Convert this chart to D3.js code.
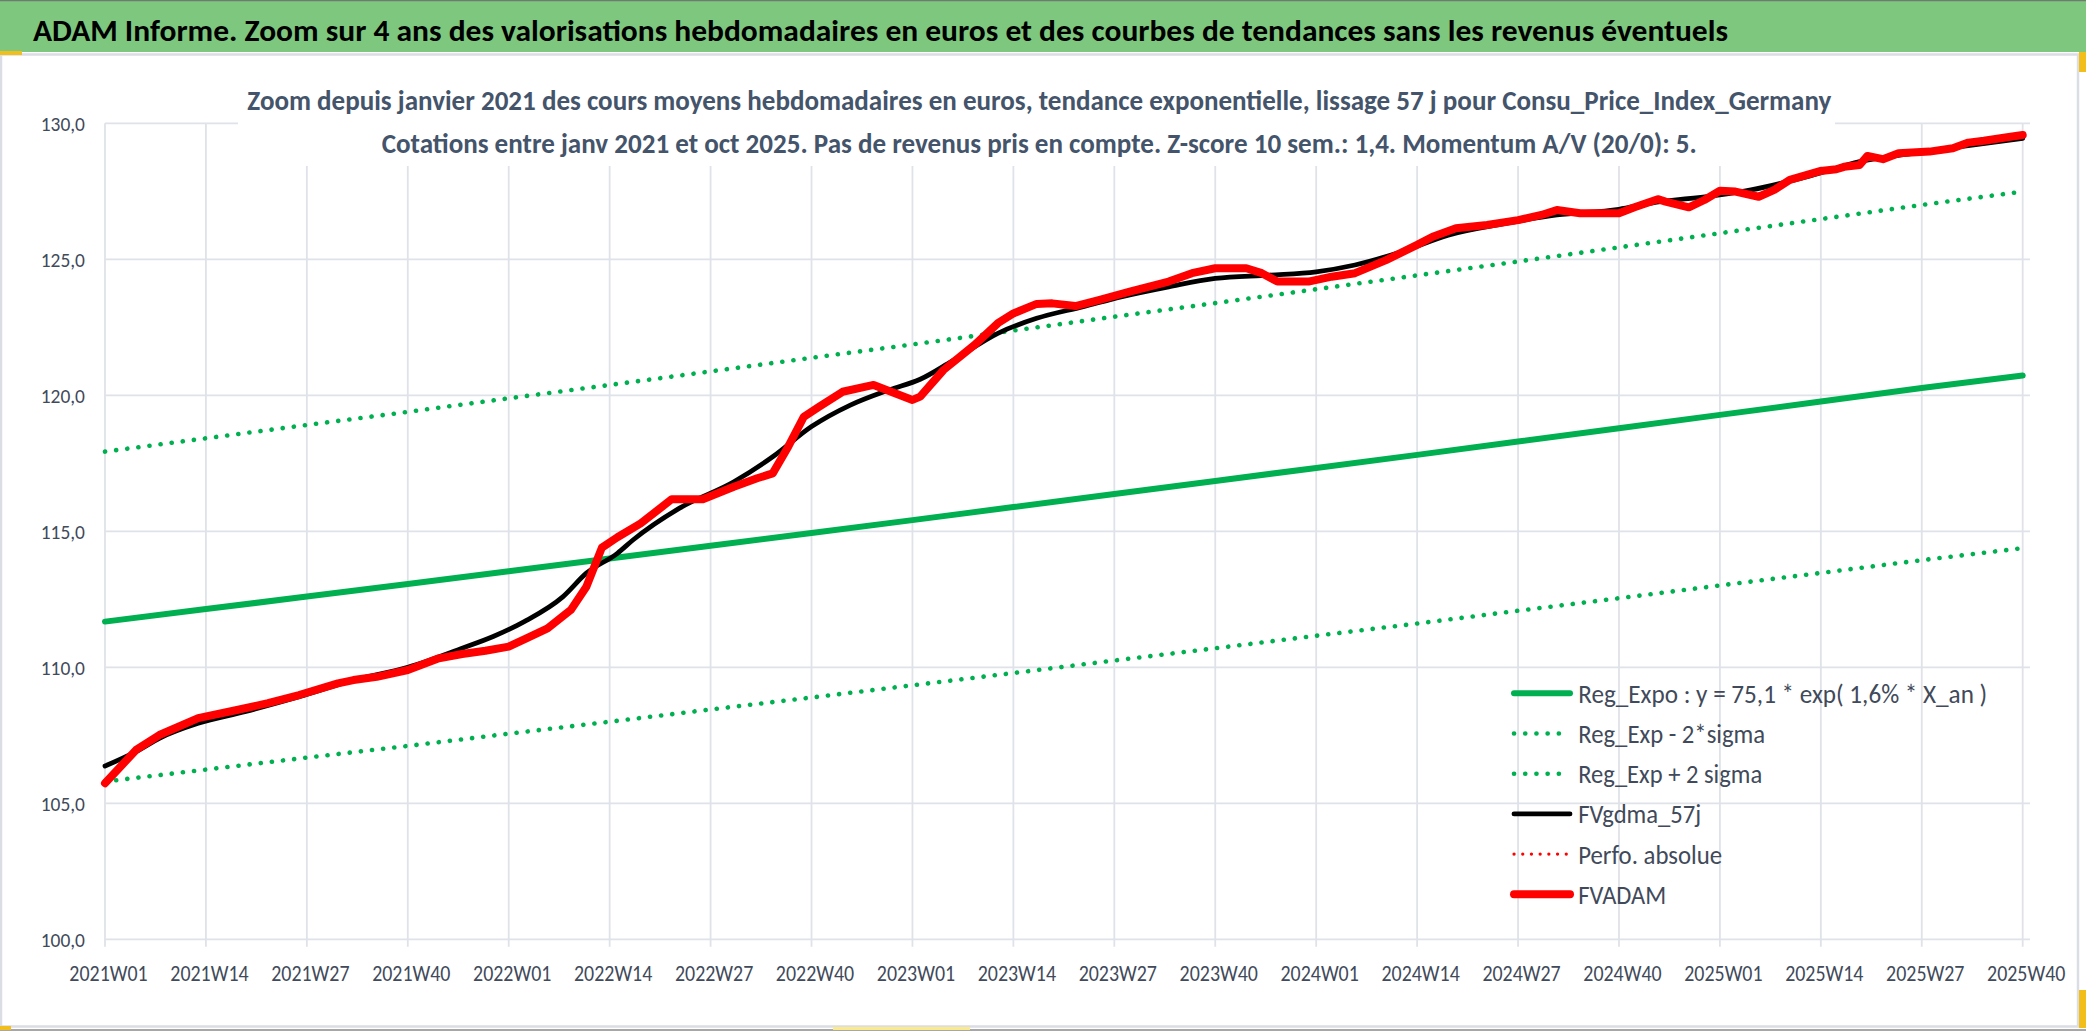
<!DOCTYPE html>
<html><head><meta charset="utf-8">
<script src="https://cdn.jsdelivr.net/npm/d3@7/dist/d3.min.js"></script>
<style>html,body{margin:0;padding:0;background:#fff;overflow:hidden}</style>
</head><body>
<svg id="c" width="2086" height="1031"></svg>
<script>
// ---------------- DATA ----------------
const titleText = "ADAM Informe. Zoom sur 4 ans des valorisations hebdomadaires en euros et des courbes de tendances sans les revenus éventuels";
const subtitle1 = "Zoom depuis janvier 2021 des cours moyens hebdomadaires en euros, tendance exponentielle, lissage 57 j pour Consu_Price_Index_Germany";
const subtitle2 = "Cotations entre janv 2021 et oct 2025. Pas de revenus pris en compte. Z-score 10 sem.: 1,4. Momentum A/V (20/0): 5.";

const xTickLabels = ["2021W01","2021W14","2021W27","2021W40","2022W01","2022W14","2022W27","2022W40",
  "2023W01","2023W14","2023W27","2023W40","2024W01","2024W14","2024W27","2024W40",
  "2025W01","2025W14","2025W27","2025W40"];
const yTicks = [100,105,110,115,120,125,130];

// Trend lines read at each labelled week
const regExpo  = [111.68,112.14,112.60,113.06,113.53,114.00,114.47,114.94,115.41,115.89,
                  116.37,116.85,117.33,117.81,118.30,118.79,119.28,119.77,120.27,120.73];
const regMinus = [105.80,106.24,106.68,107.11,107.56,108.00,108.45,108.89,109.34,109.79,
                  110.25,110.70,111.16,111.61,112.08,112.54,113.01,113.47,113.94,114.38];
const regPlus  = [117.93,118.42,118.91,119.39,119.89,120.38,120.88,121.38,121.87,122.38,
                  122.89,123.39,123.90,124.41,124.92,125.44,125.96,126.48,127.00,127.49];

// FVgdma_57j : week offset since 2021W01, value
const fvgdmaWeek  = [0,4,7,12,18,25,32,39,46,50,54,59,62,66,68,74,81,86,91,96,101,105,109,115,120,126,131,137,143,150,156,161,167,173,180,187,195,199,207,212,220,226,233,239,247];
const fvgdmaValue = [106.37,106.90,107.39,107.94,108.37,108.92,109.53,110.00,110.70,111.13,111.68,112.60,113.46,114.19,114.68,115.85,116.82,117.74,118.85,119.64,120.20,120.59,121.24,122.28,122.83,123.26,123.63,123.99,124.30,124.42,124.54,124.79,125.28,125.89,126.30,126.63,126.84,127.06,127.33,127.55,128.10,128.59,128.90,129.14,129.45];

// FVADAM : week offset since 2021W01, value
const fvadamWeek  = [0,4,7,12,17,21,25,30,32,35,39,43,46,49,52,54,57,60,62,64,66,69,73,77,81,84,86,88,90,92,95,99,104,105,108,112,115,117,120,122,125,128,132,137,140,143,147,149,151,155,158,161,165,169,171,174,178,182,185,187,190,195,197,200,201,204,206,208,210,213,215,217,221,223,224,226,227,229,231,235,238,240,242,245,247];
const fvadamValue = [105.74,106.96,107.51,108.13,108.43,108.68,108.98,109.41,109.53,109.65,109.90,110.33,110.49,110.61,110.76,111.03,111.43,112.11,112.96,114.40,114.78,115.29,116.18,116.18,116.64,116.95,117.13,118.11,119.21,119.58,120.13,120.38,119.83,119.95,120.93,121.85,122.65,123.01,123.36,123.38,123.28,123.50,123.81,124.18,124.49,124.67,124.67,124.49,124.18,124.18,124.36,124.49,124.97,125.53,125.83,126.14,126.26,126.44,126.63,126.81,126.69,126.69,126.91,127.21,127.12,126.91,127.18,127.52,127.49,127.30,127.55,127.92,128.25,128.31,128.40,128.47,128.80,128.68,128.90,128.96,129.08,129.29,129.36,129.49,129.57];

const legendLabels = ["Reg_Expo : y = 75,1 * exp( 1,6% *  X_an )","Reg_Exp - 2*sigma","Reg_Exp + 2 sigma","FVgdma_57j","Perfo. absolue","FVADAM"];

// ---------------- CHART ----------------
const FONT = "Carlito, Calibri, Lato, 'Open Sans', sans-serif";
const svg = d3.select("#c");
const weekIndex = lbl => (+lbl.slice(0,4) - 2021) * 52 + (+lbl.slice(5) - 1);

const x = d3.scaleLinear().domain([0, weekIndex("2025W40")]).range([105, 2022.7]);
const y = d3.scaleLinear().domain([100, 130]).range([939.3, 123.3]);
const plotRight = 2030;

function fitWidth(sel, w) {
  sel.attr("textLength", w).attr("lengthAdjust", "spacingAndGlyphs");
}

// background & frame
svg.append("rect").attr("x",0).attr("y",0).attr("width",2086).attr("height",1031).attr("fill","#fff");
svg.append("rect").attr("x",0).attr("y",0).attr("width",2086).attr("height",52).attr("fill","#7DC87E");
svg.append("line").attr("x1",0).attr("x2",2086).attr("y1",0.5).attr("y2",0.5).attr("stroke","#6f7a70").attr("stroke-width",1.5);
svg.append("rect").attr("x",1).attr("y",54.5).attr("width",2077).attr("height",972).attr("fill","#fff")
  .attr("stroke","#DADDE3").attr("stroke-width",2.5);
svg.append("line").attr("x1",0).attr("x2",2086).attr("y1",1030).attr("y2",1030).attr("stroke","#8a8a8a").attr("stroke-width",1.5);
// selection handles
svg.append("rect").attr("x",0).attr("y",51).attr("width",22).attr("height",4).attr("fill","#F2BE1A");
svg.append("rect").attr("x",0).attr("y",1026).attr("width",11).attr("height",4).attr("fill","#F2BE1A");
svg.append("rect").attr("x",833).attr("y",1027).attr("width",137).attr("height",3).attr("fill","#FBEA8C");
svg.append("rect").attr("x",2079).attr("y",52).attr("width",7).attr("height",20).attr("fill","#F2BE1A");
svg.append("rect").attr("x",2079).attr("y",990).attr("width",7).attr("height",38).attr("fill","#F2BE1A");

// title
svg.append("text").attr("x",33).attr("y",40.7).attr("font-family",FONT).attr("font-weight","bold")
  .attr("font-size",31).attr("fill","#000").text(titleText).call(fitWidth,1695);

// gridlines
const grid = svg.append("g");
grid.selectAll("line.h").data(yTicks).join("line").attr("class","h")
  .attr("x1",x(0)).attr("x2",plotRight).attr("y1",d=>y(d)).attr("y2",d=>y(d))
  .attr("stroke","#DFE2E8").attr("stroke-width",1.8);
grid.selectAll("line.v").data(xTickLabels).join("line").attr("class","v")
  .attr("x1",d=>x(weekIndex(d))).attr("x2",d=>x(weekIndex(d)))
  .attr("y1",y(130)).attr("y2",y(100)+7.5)
  .attr("stroke","#DFE2E8").attr("stroke-width",1.8);

// subtitle box (covers gridlines)
svg.append("rect").attr("x",238).attr("y",56).attr("width",1597).attr("height",110).attr("fill","#fff");
svg.append("text").attr("x",247.3).attr("y",110).attr("font-family",FONT).attr("font-weight","bold")
  .attr("font-size",29).attr("fill","#44546A").text(subtitle1).call(fitWidth,1584);
svg.append("text").attr("x",381.7).attr("y",152.7).attr("font-family",FONT).attr("font-weight","bold")
  .attr("font-size",29).attr("fill","#44546A").text(subtitle2).call(fitWidth,1315);

// axis labels
const fmt = d => d3.format(".1f")(d).replace(".", ",");
svg.append("g").selectAll("text").data(yTicks).join("text")
  .attr("x",85).attr("y",d=>y(d)+7.4).attr("text-anchor","end")
  .attr("font-family",FONT).attr("font-size",21).attr("fill","#414a5a")
  .text(fmt).call(fitWidth,44.3);
svg.append("g").selectAll("text").data(xTickLabels).join("text")
  .attr("x",d=>x(weekIndex(d))+3.5).attr("y",980.7).attr("text-anchor","middle")
  .attr("font-family",FONT).attr("font-size",21.5).attr("fill","#414a5a")
  .text(d=>d).call(fitWidth,78.3);

// series
const regPts = arr => xTickLabels.map((l,i)=>[weekIndex(l), arr[i]]);
const line = d3.line().x(d=>x(d[0])).y(d=>y(d[1]));
const smooth = d3.line().x(d=>x(d[0])).y(d=>y(d[1])).curve(d3.curveMonotoneX);
const green = "#00B050";
const series = svg.append("g").attr("fill","none").attr("stroke-linejoin","round");

series.append("path").attr("d",line(regPts(regExpo))).attr("stroke",green).attr("stroke-width",6).attr("stroke-linecap","round");
series.append("path").attr("d",line(regPts(regMinus))).attr("stroke",green).attr("stroke-width",4.6)
  .attr("stroke-linecap","round").attr("stroke-dasharray","0.1 11.1");
series.append("path").attr("d",line(regPts(regPlus))).attr("stroke",green).attr("stroke-width",4.6)
  .attr("stroke-linecap","round").attr("stroke-dasharray","0.1 11.1");
series.append("path").attr("d",smooth(fvgdmaWeek.map((w,i)=>[w,fvgdmaValue[i]])))
  .attr("stroke","#000").attr("stroke-width",4.8).attr("stroke-linecap","round");
series.append("path").attr("d",line(fvadamWeek.map((w,i)=>[w,fvadamValue[i]])))
  .attr("stroke","#FF0000").attr("stroke-width",8).attr("stroke-linecap","round");

// legend
const legStyles = [
  {c:green, w:6, dash:null},
  {c:green, w:4.6, dash:"0.1 11.1"},
  {c:green, w:4.6, dash:"0.1 11.1"},
  {c:"#000", w:4.8, dash:null},
  {c:"#FF0000", w:3.2, dash:"0.1 8.6"},
  {c:"#FF0000", w:8, dash:null}
];
const legWidths = [409,187,184,123,144,88];
const leg = svg.append("g");
legendLabels.forEach((lbl,i)=>{
  const by = 702.7 + i*40.2;
  const s = legStyles[i];
  leg.append("line").attr("x1",1514).attr("x2",1570).attr("y1",by-9.4).attr("y2",by-9.4)
    .attr("stroke",s.c).attr("stroke-width",s.w).attr("stroke-linecap","round")
    .attr("stroke-dasharray",s.dash);
  leg.append("text").attr("x",1578.2).attr("y",by).attr("font-family",FONT)
    .attr("font-size",26).attr("fill","#414a5a").text(lbl).call(fitWidth,legWidths[i]);
});
</script>
</body></html>
